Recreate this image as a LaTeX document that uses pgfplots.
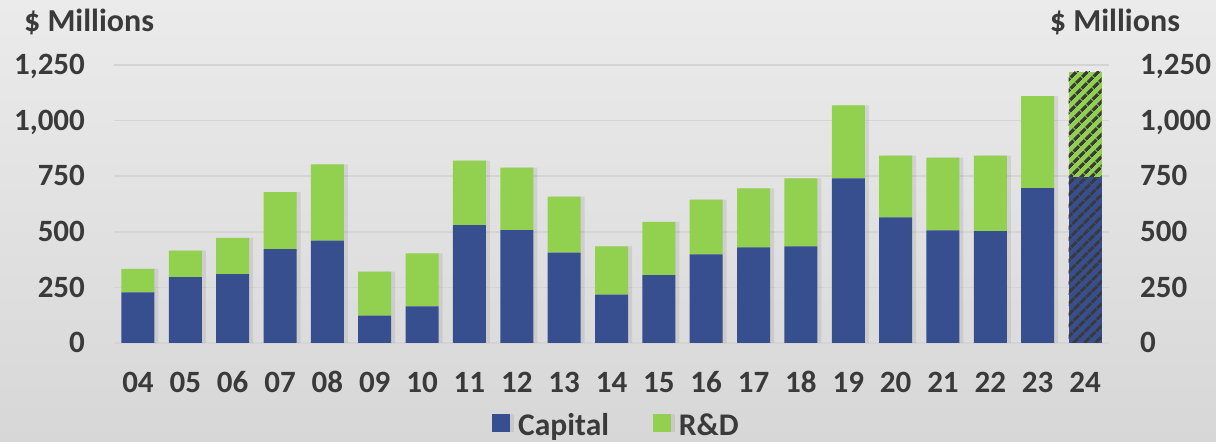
\documentclass[border=0pt]{standalone}
\usepackage{pgfplots}
\pgfplotsset{compat=1.18}
\usepackage{fontspec}
\setmainfont{Carlito}
\usetikzlibrary{patterns.meta,shadows}
\definecolor{capblue}{HTML}{374E8F}
\definecolor{rdgreen}{HTML}{92D050}
\definecolor{txt}{HTML}{3A3A3A}
\definecolor{bgtop}{HTML}{EBEBEB}
\definecolor{bgbot}{HTML}{D7D7D7}
\definecolor{gridc}{HTML}{D4D4D4}
\begin{document}
\begin{tikzpicture}
\useasboundingbox (0,0) rectangle (608pt,221pt);
\shade[top color=bgtop, bottom color=bgbot] (0,0) rectangle (608pt,221pt);
\pgfplotsset{common/.style={
  width=497.2pt, height=139pt, scale only axis,
  at={(57.15pt,49.5pt)}, anchor=south west,
  xmin=-0.5, xmax=20.5, ymin=0, ymax=1250,
  ytick={0,250,500,750,1000,1250},
  yticklabels={0,250,500,750,{1,000},{1,250}},
  major tick length=0pt,
  axis line style={draw=none},
  tick label style={font=\bfseries\fontsize{15.5}{18}\selectfont, text=txt},
}}
\begin{axis}[common,
  ybar stacked, bar width=16.5pt,
  ymajorgrids, major grid style={draw=gridc, line width=0.8pt},
  ytick pos=left, xtick pos=bottom,
  xtick={0,...,20},
  xticklabels={04,05,06,07,08,09,10,11,12,13,14,15,16,17,18,19,20,21,22,23,24},
  xticklabel style={anchor=base, yshift=-25pt},
  yticklabel style={anchor=base east, inner sep=0pt, xshift=-14.5pt, yshift=-4.9pt},
  legend style={at={(0.5,0)}, anchor=center, yshift=-41.5pt, xshift=3pt, draw=none, fill=none,
    legend columns=2, font=\bfseries\fontsize{15.75}{18}\selectfont, text=txt,
    /tikz/every even column/.append style={column sep=20pt},
    /tikz/every odd column/.append style={column sep=0pt}},
  legend cell align=left,
]
\addplot[fill=capblue, draw=none,
  drop shadow={shadow xshift=2pt, shadow yshift=0pt, opacity=0.18},
  legend image code/.code={\fill[capblue] (0pt,-3pt) rectangle (9pt,6pt); \path (11pt,0pt);}]
  coordinates {(0,228) (1,296) (2,310) (3,422) (4,460) (5,123) (6,165) (7,530) (8,507) (9,406)
  (10,218) (11,305) (12,398) (13,430) (14,434) (15,740) (16,565) (17,506) (18,503) (19,696) (20,0)};
\addlegendentry{Capital}
\addplot[fill=rdgreen, draw=none,
  drop shadow={shadow xshift=2pt, shadow yshift=0pt, opacity=0.18},
  legend image code/.code={\fill[rdgreen] (0pt,-3pt) rectangle (9pt,6pt); \path (11pt,0pt);}]
  coordinates {(0,105) (1,119) (2,163) (3,256) (4,343) (5,198) (6,238) (7,290) (8,281) (9,252)
  (10,216) (11,240) (12,247) (13,265) (14,306) (15,328) (16,278) (17,328) (18,340) (19,414) (20,0)};
\addlegendentry{R\&D}
\addplot[fill=capblue, draw=none, forget plot,
  postaction={pattern={Lines[angle=45, distance=4pt, line width=1.6pt]}, pattern color=txt}]
  coordinates {(0,0) (1,0) (2,0) (3,0) (4,0) (5,0) (6,0) (7,0) (8,0) (9,0)
  (10,0) (11,0) (12,0) (13,0) (14,0) (15,0) (16,0) (17,0) (18,0) (19,0) (20,745)};
\addplot[fill=rdgreen, draw=none, forget plot,
  postaction={pattern={Lines[angle=45, distance=4pt, line width=1.6pt]}, pattern color=txt}]
  coordinates {(0,0) (1,0) (2,0) (3,0) (4,0) (5,0) (6,0) (7,0) (8,0) (9,0)
  (10,0) (11,0) (12,0) (13,0) (14,0) (15,0) (16,0) (17,0) (18,0) (19,0) (20,475)};
\end{axis}
\begin{axis}[common,
  ytick pos=right, xtick=\empty,
  yticklabel style={anchor=base west, inner sep=0pt, xshift=15.5pt, yshift=-4.9pt},
]
\end{axis}
\node[anchor=base west, font=\bfseries\fontsize{16}{18}\selectfont, text=txt] at (8.5pt,205pt) {\$ Millions};
\node[anchor=base east, font=\bfseries\fontsize{16}{18}\selectfont, text=txt] at (593.5pt,205pt) {\$ Millions};
\end{tikzpicture}
\end{document}
